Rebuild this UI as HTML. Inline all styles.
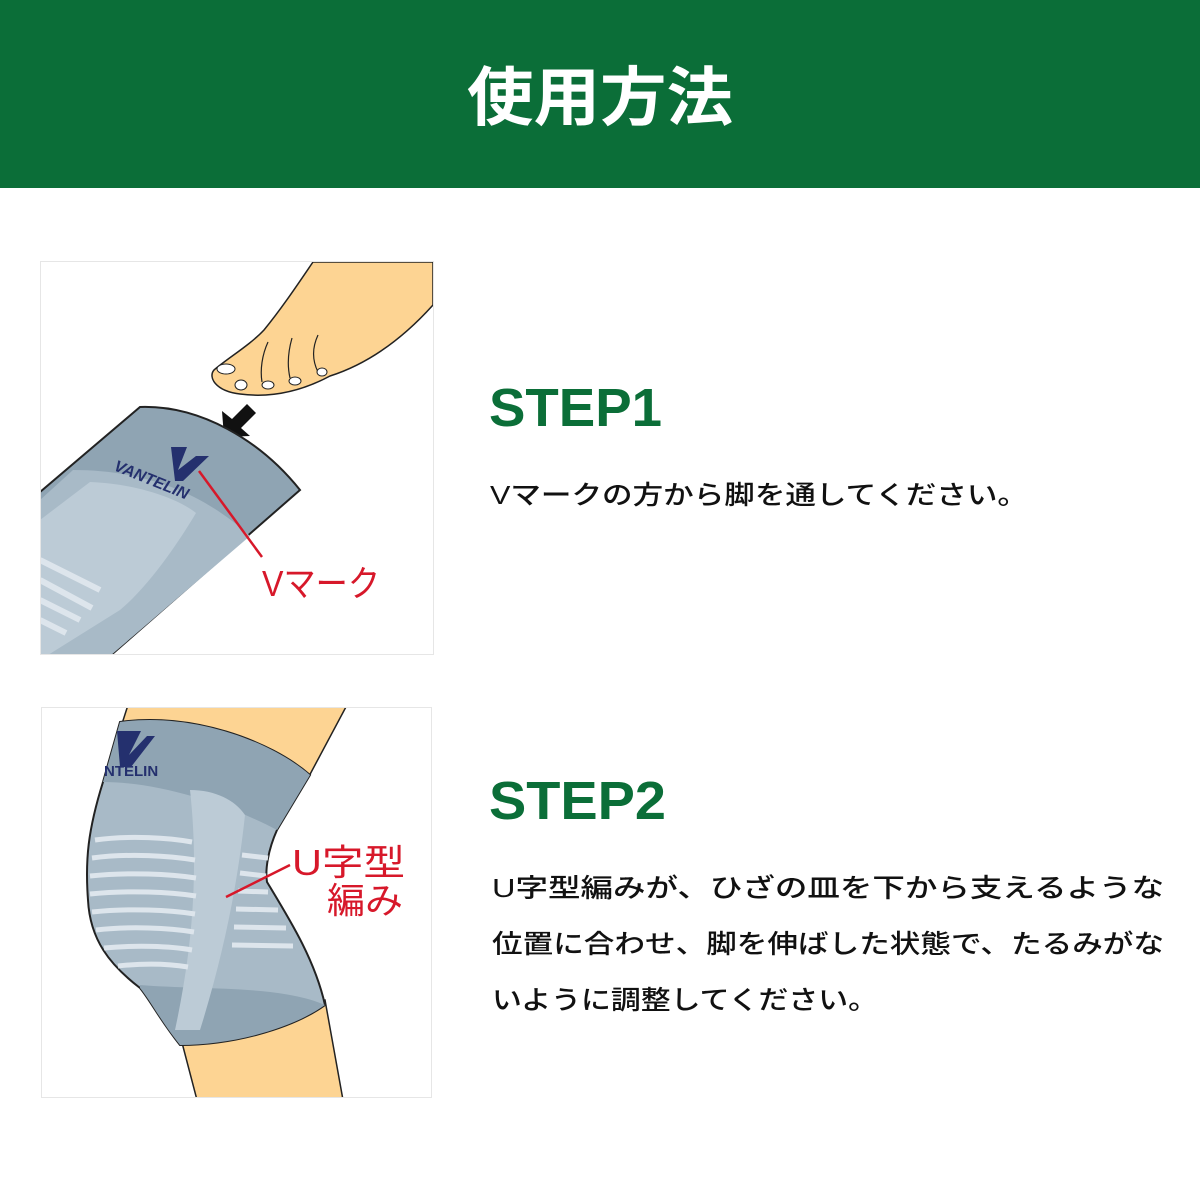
<!DOCTYPE html>
<html><head><meta charset="utf-8"><style>
html,body{margin:0;padding:0;background:#fff;width:1200px;height:1200px;overflow:hidden}
svg{display:block}
text{font-family:"Liberation Sans","Noto Sans CJK JP",sans-serif}
</style></head><body>
<svg width="1200" height="1200" viewBox="0 0 1200 1200" xmlns="http://www.w3.org/2000/svg">
<rect x="0" y="0" width="1200" height="188" fill="#0b6e38"/>
<text x="600" y="120" text-anchor="middle" fill="#fff" font-size="64" font-weight="bold" textLength="266" lengthAdjust="spacingAndGlyphs">使用方法</text>

<!-- image 1 -->
<rect x="40.5" y="261.5" width="393" height="393" fill="#fff" stroke="#e6e6e6"/>
<defs><clipPath id="c1"><rect x="41" y="262" width="392" height="392"/></clipPath>
<clipPath id="c2"><rect x="42" y="708" width="390" height="389"/></clipPath></defs>
<g clip-path="url(#c1)">
<path d="M313,262 L433,262 L433,305 C415,325 380,360 330,376 C300,392 270,398 240,394 C215,391 208,377 214,370 C228,358 250,345 264,330 C282,308 298,284 313,262Z" fill="#fdd493" stroke="#222" stroke-width="1.5"/>
<path d="M268,342 C262,355 260,370 262,382 M292,338 C288,352 287,365 290,378 M318,335 C312,348 312,360 318,372" fill="none" stroke="#222" stroke-width="1.2"/>
<ellipse cx="226" cy="369" rx="9" ry="5" fill="#fff" stroke="#222"/>
<ellipse cx="241" cy="385" rx="6" ry="5" fill="#fff" stroke="#222"/>
<ellipse cx="268" cy="385" rx="6" ry="4" fill="#fff" stroke="#222"/>
<ellipse cx="295" cy="381" rx="6" ry="4" fill="#fff" stroke="#222"/>
<ellipse cx="322" cy="372" rx="5" ry="4" fill="#fff" stroke="#222"/>
<path d="M224,437 L222,411 L232,419 L247,404 L256,413 L241,428 L250,436Z" fill="#111"/>
<path d="M140,407 C200,405 260,440 300,490 L110,656 L40,656 L40,492Z" fill="#8fa4b3" stroke="#222" stroke-width="2"/>
<path d="M40,500 L73,470 C140,470 200,490 250,536 L110,656 L40,656Z" fill="#a8bac7"/>
<path d="M40,520 L90,482 C140,484 180,500 196,513 C180,540 150,585 120,610 L40,660Z" fill="#bccbd6"/>
<path d="M40,560 L100,590 M40,580 L92,608 M40,600 L80,620 M40,620 L66,633" stroke="#dde5ec" stroke-width="6"/>
<path d="M171,447 L187,447 L178,470 L196,456 L209,456 L183,481 L175,481Z" fill="#24306e"/>
<text x="0" y="0" fill="#24306e" font-size="16" font-weight="bold" font-style="italic" transform="translate(113,470) rotate(22)">VANTELIN</text>
<line x1="199" y1="471" x2="262" y2="557" stroke="#d7182a" stroke-width="2.5"/>
<text x="262" y="596" fill="#d7182a" font-size="36" textLength="118" lengthAdjust="spacingAndGlyphs">Vマーク</text>
</g>

<!-- image 2 -->
<rect x="41.5" y="707.5" width="390" height="390" fill="#fff" stroke="#e6e6e6"/>
<g clip-path="url(#c2)">
<path d="M128,705 L347,705 L307,780 L120,730Z" fill="#fdd493" stroke="#222" stroke-width="1.5"/>
<path d="M180,1035 L197,1100 L343,1100 L325,1000Z" fill="#fdd493" stroke="#222" stroke-width="1.5"/>
<path d="M120,722 C190,712 270,740 310,775 L277,830 C268,850 265,870 267,882 C290,920 315,960 325,1005 C290,1030 230,1045 180,1045 C160,1020 150,1000 140,988 C110,965 90,940 88,900 C85,860 88,830 103,782 Z" fill="#a8bac7" stroke="#222" stroke-width="2"/>
<path d="M120,722 C190,712 270,740 310,775 L277,830 C230,805 160,782 103,782 Z" fill="#8fa4b3"/>
<path d="M140,985 C200,990 280,985 325,1005 C290,1030 230,1045 180,1045 C160,1020 150,1000 140,988Z" fill="#8fa4b3"/>
<path d="M190,790 C215,790 235,800 245,815 C238,880 225,950 200,1030 L175,1030 C190,960 200,880 190,790Z" fill="#bccbd6"/>
<g stroke="#dde5ec" stroke-width="5" fill="none">
<path d="M95,840 C130,835 170,838 192,842"/><path d="M92,858 C130,853 170,856 195,860"/><path d="M90,876 C130,872 170,874 196,878"/>
<path d="M90,894 C130,890 170,892 196,896"/><path d="M92,912 C130,908 170,910 195,914"/><path d="M96,930 C130,926 170,928 194,932"/>
<path d="M104,948 C135,945 170,946 192,950"/><path d="M118,966 C145,963 170,964 188,967"/>
<path d="M242,855 L268,858"/><path d="M240,873 L266,876"/><path d="M238,891 L268,892"/><path d="M236,909 L278,910"/><path d="M234,927 L286,928"/><path d="M232,945 L293,946"/>
</g>
<path d="M117,731 L141,731 L129,755 L147,736 L155,736 L131,767 L120,767Z" fill="#24306e"/>
<text x="104" y="776" fill="#24306e" font-size="15" font-weight="bold">NTELIN</text>
<line x1="226" y1="897" x2="290" y2="865" stroke="#d7182a" stroke-width="2.5"/>
<text x="292" y="875" fill="#d7182a" font-size="36" textLength="113" lengthAdjust="spacingAndGlyphs">U字型</text>
<text x="327" y="913" fill="#d7182a" font-size="36" textLength="76" lengthAdjust="spacingAndGlyphs">編み</text>
</g>

<!-- texts -->
<text x="489" y="426" fill="#0b6e38" font-size="54" font-weight="bold" textLength="173" lengthAdjust="spacingAndGlyphs">STEP1</text>
<text x="490" y="504" fill="#111" font-size="26" font-weight="500" textLength="538" lengthAdjust="spacingAndGlyphs">Vマークの方から脚を通してください。</text>
<text x="489" y="819" fill="#0b6e38" font-size="54" font-weight="bold" textLength="177" lengthAdjust="spacingAndGlyphs">STEP2</text>
<text x="492" y="897" fill="#111" font-size="26" font-weight="500" textLength="672" lengthAdjust="spacingAndGlyphs">U字型編みが、ひざの皿を下から支えるような</text>
<text x="492" y="953" fill="#111" font-size="26" font-weight="500" textLength="672" lengthAdjust="spacingAndGlyphs">位置に合わせ、脚を伸ばした状態で、たるみがな</text>
<text x="492" y="1009" fill="#111" font-size="26" font-weight="500" textLength="386" lengthAdjust="spacingAndGlyphs">いように調整してください。</text>
</svg>
</body></html>
